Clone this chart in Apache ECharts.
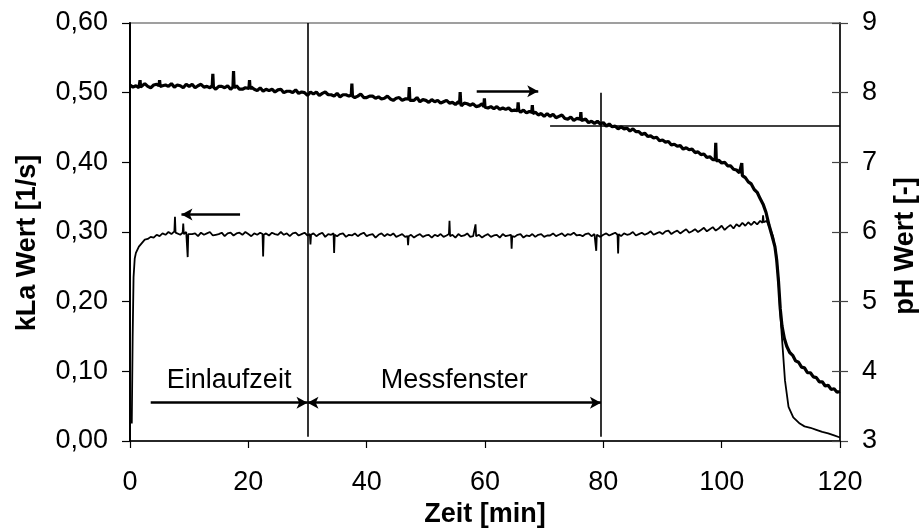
<!DOCTYPE html>
<html>
<head>
<meta charset="utf-8">
<script src="https://cdn.jsdelivr.net/npm/echarts@6/dist/echarts.min.js"></script>
<style>
  html, body { margin: 0; padding: 0; background: #fff; }
  #chart { width: 920px; height: 529px; }
</style>
</head>
<body>
<div id="chart"></div>
<script>
// kLa Wert [1/s] over Zeit [min]  (left axis)
var kLaData = [
  [0.3, 0.025], [0.45, 0.15], [0.6, 0.235], [0.8, 0.262], [1.0, 0.270], [1.5, 0.279], [2, 0.284],
  [2.5, 0.289], [3, 0.290], [3.5, 0.293], [4, 0.292], [4.5, 0.296], [5, 0.294], [5.5, 0.298],
  [6, 0.296], [6.5, 0.300], [7, 0.297], [7.5, 0.301], [7.6, 0.322], [7.7, 0.299], [8, 0.299],
  [8.5, 0.296], [8.9, 0.299], [9.0, 0.312], [9.1, 0.297], [9.5, 0.300], [9.65, 0.298], [9.75, 0.264],
  [9.85, 0.297], [10, 0.295], [10.5, 0.297], [11, 0.298], [11.5, 0.294], [12, 0.299], [12.5, 0.296],
  [13, 0.298], [13.5, 0.300], [14, 0.295], [14.5, 0.296], [15, 0.297], [15.5, 0.299], [16, 0.294],
  [16.5, 0.298], [17, 0.299], [17.5, 0.295], [18, 0.298], [18.5, 0.299], [19, 0.296], [19.5, 0.300],
  [20, 0.297], [20.5, 0.294], [21, 0.298], [21.5, 0.296], [22, 0.299], [22.4, 0.297], [22.5, 0.265],
  [22.6, 0.296], [23, 0.298], [23.5, 0.295], [24, 0.299], [24.5, 0.297], [25, 0.296], [25.5, 0.300],
  [26, 0.296], [26.5, 0.298], [27, 0.294], [27.5, 0.298], [28, 0.299], [28.5, 0.295], [29, 0.297],
  [29.5, 0.299], [30, 0.295], [30.4, 0.297], [30.5, 0.282], [30.6, 0.296], [31, 0.298], [31.5, 0.294],
  [32, 0.297], [32.5, 0.299], [33, 0.293], [33.5, 0.297], [34, 0.296], [34.4, 0.298], [34.5, 0.270],
  [34.6, 0.296], [35, 0.294], [35.5, 0.297], [36, 0.298], [36.5, 0.293], [37, 0.296], [37.5, 0.295],
  [38, 0.298], [38.5, 0.294], [39, 0.297], [39.5, 0.299], [40, 0.294], [40.5, 0.296], [41, 0.297],
  [41.5, 0.292], [42, 0.296], [42.5, 0.298], [43, 0.294], [43.5, 0.297], [44, 0.295], [44.5, 0.298],
  [45, 0.293], [45.5, 0.295], [46, 0.297], [46.5, 0.293], [46.9, 0.294], [47.0, 0.281], [47.1, 0.294],
  [47.5, 0.296], [48, 0.292], [48.5, 0.295], [49, 0.297], [49.5, 0.293], [50, 0.295], [50.5, 0.296],
  [51, 0.292], [51.5, 0.296], [52, 0.294], [52.5, 0.297], [53, 0.293], [53.5, 0.295], [53.9, 0.297],
  [54.0, 0.316], [54.1, 0.294], [54.5, 0.296], [55, 0.292], [55.5, 0.297], [56, 0.294], [56.5, 0.295],
  [57, 0.298], [57.5, 0.293], [58, 0.294], [58.3, 0.296], [58.4, 0.311], [58.5, 0.294], [59, 0.296],
  [59.5, 0.292], [60, 0.295], [60.5, 0.297], [61, 0.293], [61.5, 0.295], [62, 0.296], [62.5, 0.292],
  [63, 0.297], [63.5, 0.294], [64, 0.295], [64.4, 0.296], [64.5, 0.276], [64.6, 0.294], [65, 0.293],
  [65.5, 0.296], [66, 0.297], [66.5, 0.292], [67, 0.295], [67.5, 0.294], [68, 0.297], [68.5, 0.293],
  [69, 0.296], [69.5, 0.297], [70, 0.293], [70.5, 0.295], [71, 0.295], [71.5, 0.298], [72, 0.294],
  [72.5, 0.296], [73, 0.298], [73.5, 0.294], [74, 0.297], [74.5, 0.296], [75, 0.299], [75.5, 0.295],
  [76, 0.296], [76.5, 0.294], [77, 0.297], [77.5, 0.298], [78, 0.294], [78.5, 0.297], [78.7, 0.297],
  [78.8, 0.273], [78.9, 0.296], [79.5, 0.293], [80, 0.296], [80.5, 0.298], [81, 0.295], [81.5, 0.297],
  [82, 0.299], [82.4, 0.296], [82.5, 0.269], [82.6, 0.297], [83, 0.294], [83.5, 0.298], [84, 0.296],
  [84.5, 0.297], [85, 0.300], [85.5, 0.295], [86, 0.297], [86.5, 0.299], [87, 0.296], [87.5, 0.298],
  [88, 0.301], [88.5, 0.296], [89, 0.298], [89.5, 0.300], [90, 0.297], [90.5, 0.301], [91, 0.302],
  [91.5, 0.297], [92, 0.300], [92.5, 0.302], [93, 0.298], [93.5, 0.301], [94, 0.304], [94.5, 0.299],
  [95, 0.301], [95.5, 0.304], [96, 0.300], [96.5, 0.303], [97, 0.306], [97.5, 0.301], [98, 0.304],
  [98.5, 0.307], [99, 0.302], [99.5, 0.305], [100, 0.309], [100.5, 0.303], [101, 0.307], [101.5, 0.310],
  [102, 0.305], [102.5, 0.311], [103, 0.308], [103.5, 0.313], [104, 0.309], [104.5, 0.314],
  [105, 0.310], [105.5, 0.315], [106, 0.311], [106.5, 0.316], [106.9, 0.313], [107.0, 0.324],
  [107.1, 0.314], [107.6, 0.316], [108.2, 0.305], [108.7, 0.293], [109.2, 0.269], [109.6, 0.231],
  [109.9, 0.183], [110.3, 0.135], [110.7, 0.087], [111.3, 0.049], [112.1, 0.034], [113.2, 0.025],
  [114, 0.021], [115, 0.019], [116, 0.016], [117, 0.013], [118, 0.011], [119, 0.008], [120, 0.005]
];

// pH Wert [-] over Zeit [min]  (right axis)
var phData = [
  [0, 8.11], [0.5, 8.08], [1, 8.10], [1.5, 8.07], [1.6, 8.09], [1.7, 8.18], [1.8, 8.08], [2, 8.10],
  [2.5, 8.13], [3, 8.09], [3.5, 8.07], [4, 8.11], [4.5, 8.12], [4.9, 8.10], [5.0, 8.18], [5.1, 8.09],
  [5.5, 8.10], [6, 8.11], [6.5, 8.09], [7, 8.13], [7.5, 8.08], [8, 8.11], [8.5, 8.10], [9, 8.07],
  [9.5, 8.12], [10, 8.09], [10.5, 8.12], [11, 8.07], [11.5, 8.10], [12, 8.12], [12.5, 8.08],
  [13, 8.09], [13.5, 8.07], [13.9, 8.10], [14.0, 8.27], [14.1, 8.08], [14.5, 8.05], [15, 8.09],
  [15.5, 8.09], [16, 8.07], [16.5, 8.10], [17, 8.05], [17.4, 8.08], [17.5, 8.31], [17.6, 8.07],
  [18, 8.10], [18.5, 8.05], [19, 8.05], [19.5, 8.07], [20.1, 8.06], [20.2, 8.18], [20.3, 8.05],
  [20.5, 8.08], [21, 8.05], [21.5, 8.03], [22, 8.07], [22.5, 8.02], [23, 8.05], [23.5, 8.03],
  [24, 8.05], [24.5, 8.01], [25, 8.04], [25.5, 8.05], [26, 8.00], [26.5, 8.02], [27, 8.02],
  [27.5, 8.00], [28, 8.04], [28.5, 7.99], [29, 8.01], [29.5, 8.00], [30, 7.96], [30.5, 8.01],
  [31, 7.98], [31.5, 8.01], [32, 7.96], [32.5, 7.99], [33, 8.01], [33.5, 7.97], [34, 7.97],
  [34.5, 7.95], [35, 7.99], [35.5, 7.94], [36, 7.97], [36.5, 7.97], [37, 7.95], [37.4, 7.97],
  [37.5, 8.13], [37.6, 7.95], [38, 7.93], [38.5, 7.95], [39, 7.98], [39.5, 7.93], [40, 7.93],
  [40.5, 7.95], [41, 7.95], [41.5, 7.92], [42, 7.94], [42.5, 7.91], [43, 7.92], [43.5, 7.95],
  [44, 7.91], [44.5, 7.89], [45, 7.92], [45.5, 7.93], [46, 7.89], [46.5, 7.91], [47.1, 7.91],
  [47.2, 8.08], [47.3, 7.89], [47.5, 7.91], [48, 7.89], [48.5, 7.93], [49, 7.87], [49.5, 7.90],
  [50, 7.89], [50.5, 7.86], [51, 7.90], [51.5, 7.87], [52, 7.89], [52.5, 7.85], [53, 7.87],
  [53.5, 7.89], [54, 7.85], [54.5, 7.86], [55, 7.83], [55.5, 7.87], [55.7, 7.84], [55.8, 8.01],
  [55.9, 7.85], [56, 7.81], [56.5, 7.85], [57, 7.84], [57.5, 7.82], [58, 7.84], [58.5, 7.80],
  [59, 7.81], [59.5, 7.84], [59.8, 7.80], [59.9, 7.92], [60.0, 7.79], [60.5, 7.78], [61, 7.80],
  [61.5, 7.77], [62, 7.80], [62.5, 7.76], [63, 7.78], [63.5, 7.76], [64, 7.78], [64.5, 7.74],
  [65, 7.75], [65.5, 7.74], [65.6, 7.86], [65.7, 7.75], [66, 7.72], [66.5, 7.75], [67, 7.71],
  [67.5, 7.73], [67.9, 7.72], [68.0, 7.82], [68.1, 7.70], [68.5, 7.72], [69, 7.68], [69.5, 7.70],
  [70, 7.66], [70.5, 7.70], [71, 7.66], [71.5, 7.69], [72, 7.64], [72.5, 7.66], [73, 7.68],
  [73.5, 7.63], [74, 7.62], [74.5, 7.65], [75, 7.60], [75.5, 7.63], [76.1, 7.62], [76.2, 7.72],
  [76.3, 7.60], [76.5, 7.61], [77, 7.62], [77.5, 7.57], [78, 7.59], [78.5, 7.56], [79, 7.59],
  [79.5, 7.55], [80, 7.57], [80.5, 7.52], [81, 7.55], [81.5, 7.51], [82, 7.52], [82.5, 7.48],
  [83, 7.51], [83.5, 7.48], [84, 7.49], [84.5, 7.45], [85, 7.48], [85.5, 7.44], [86, 7.44],
  [86.5, 7.40], [87, 7.42], [87.5, 7.37], [88, 7.38], [88.5, 7.35], [89, 7.36], [89.5, 7.31],
  [90, 7.32], [90.5, 7.29], [91, 7.30], [91.5, 7.25], [92, 7.26], [92.5, 7.23], [93, 7.24],
  [93.5, 7.19], [94, 7.21], [94.5, 7.18], [95, 7.19], [95.5, 7.14], [96, 7.15], [96.5, 7.11],
  [97, 7.12], [97.5, 7.07], [98, 7.08], [98.5, 7.04], [98.9, 7.04], [99.0, 7.28], [99.1, 7.02],
  [99.5, 7.03], [100, 6.99], [100.5, 7.00], [101, 6.95], [101.5, 6.95], [102, 6.90], [102.5, 6.89],
  [103, 6.85], [103.3, 6.83], [103.4, 6.99], [103.5, 6.81], [104, 6.78], [104.5, 6.72], [105, 6.69],
  [105.5, 6.61], [106, 6.57], [106.5, 6.48], [107, 6.40], [107.5, 6.28], [108, 6.10], [108.5, 5.95],
  [109, 5.79], [109.3, 5.60], [109.6, 5.30], [109.9, 4.90], [110.2, 4.65], [110.6, 4.47],
  [111, 4.36], [111.5, 4.27], [112, 4.23], [112.5, 4.15], [113, 4.13], [113.5, 4.06], [114, 4.05],
  [114.5, 3.98], [115, 3.98], [115.5, 3.92], [116, 3.91], [116.5, 3.85], [117, 3.85], [117.5, 3.79],
  [118, 3.80], [118.5, 3.74], [119, 3.75], [119.5, 3.70], [120, 3.71]
];

// annotations, in data coordinates (time, kLa)
var einlaufArrow = [[3.5, 0.055], [30, 0.055]];
var messArrow = [[30, 0.055], [79.6, 0.055]];
var kLaArrow = [[18.6, 0.325], [8.7, 0.325]];
var phArrow = [[58.6, 0.502], [69, 0.502]];
var markerLines = [
  [[30, 0.006], [30, 0.6]],
  [[79.6, 0.006], [79.6, 0.50]]
];
var phLevelLine = [[71, 7.53], [120, 7.53]];

var font = 'Liberation Sans, Arial, sans-serif';
var txt = { fontFamily: font, fontSize: 27, color: '#000' };

var myChart = echarts.init(document.getElementById('chart'));

function seg(pts, symbols, label) {
  var item = [
    { coord: pts[0], symbol: symbols[0] },
    { coord: pts[1], symbol: symbols[1] }
  ];
  if (label) {
    item[0].label = {
      show: true, position: 'middle', distance: 9, formatter: label,
      fontFamily: font, fontSize: 27, color: '#000'
    };
  }
  return item;
}

var option = {
  animation: false,
  grid: {
    left: 130, right: 80, top: 23, bottom: 88,
    containLabel: false, outerBoundsMode: 'none',
    show: true, borderColor: '#808080', borderWidth: 1.5
  },
  xAxis: {
    type: 'value', min: 0, max: 120, interval: 20,
    name: 'Zeit [min]', nameLocation: 'middle', nameGap: 59,
    nameTextStyle: { fontFamily: font, fontSize: 27, fontWeight: 'bold', color: '#000' },
    axisLine: { lineStyle: { color: '#000', width: 1.5 } },
    axisTick: { inside: false, length: 7, lineStyle: { color: '#000', width: 1.2 } },
    axisLabel: Object.assign({ margin: 28 }, txt),
    splitLine: { show: false }
  },
  yAxis: [
    {
      type: 'value', position: 'left', min: 0, max: 0.6, interval: 0.1,
      name: 'kLa Wert [1/s]', nameLocation: 'middle', nameGap: 89,
      nameTextStyle: {
        fontFamily: font, fontSize: 27, fontWeight: 'bold', color: '#000',
        padding: [0, 22, 0, 0]
      },
      axisLine: { show: true, lineStyle: { color: '#000', width: 2 } },
      axisTick: { show: true, length: 8, lineStyle: { color: '#000', width: 1.2 } },
      axisLabel: Object.assign({
        margin: 22,
        formatter: function (v) { return v.toFixed(2).replace('.', ','); }
      }, txt),
      splitLine: { show: false }
    },
    {
      type: 'value', position: 'right', min: 3, max: 9, interval: 1,
      name: 'pH Wert [-]', nameLocation: 'middle', nameGap: 52,
      nameTextStyle: {
        fontFamily: font, fontSize: 27, fontWeight: 'bold', color: '#000',
        padding: [0, 28, 0, 0]
      },
      axisLine: { show: true, lineStyle: { color: '#000', width: 1.5 } },
      axisTick: { show: true, length: 8, lineStyle: { color: '#444', width: 1.2 } },
      axisLabel: Object.assign({ margin: 22 }, txt),
      splitLine: { show: false }
    },
    {
      type: 'value', position: 'right', offset: 0, min: 3, max: 9, interval: 1,
      axisLine: { show: false },
      axisTick: { show: true, inside: true, length: 8, lineStyle: { color: '#444', width: 1.2 } },
      axisLabel: { show: false },
      splitLine: { show: false }
    }
  ],
  series: [
    {
      name: 'kLa', type: 'line', yAxisIndex: 0, data: kLaData,
      showSymbol: false, symbol: 'none',
      lineStyle: { color: '#000', width: 1.8 },
      markLine: {
        silent: true, animation: false,
        lineStyle: { color: '#000', width: 1.6, type: 'solid' },
        symbolSize: [9, 11],
        label: { show: false },
        data: [
          seg(markerLines[0], ['none', 'none']),
          seg(markerLines[1], ['none', 'none']),
          seg(einlaufArrow, ['none', 'arrow'], 'Einlaufzeit'),
          seg(messArrow, ['arrow', 'arrow'], 'Messfenster'),
          seg(kLaArrow, ['none', 'arrow']),
          seg(phArrow, ['none', 'arrow'])
        ].map(function (d, i) {
          if (i >= 2) {
            d[0].lineStyle = { width: 2.6, color: '#000' };
          }
          return d;
        })
      }
    },
    {
      name: 'pH', type: 'line', yAxisIndex: 1, data: phData,
      showSymbol: false, symbol: 'none',
      lineStyle: { color: '#000', width: 3.2 },
      markLine: {
        silent: true, animation: false, symbol: 'none',
        label: { show: false },
        lineStyle: { color: '#000', width: 1.6, type: 'solid' },
        data: [[{ coord: phLevelLine[0] }, { coord: phLevelLine[1] }]]
      }
    }
  ]
};

myChart.setOption(option);
window.addEventListener('resize', function () {
  myChart.resize();
});
</script>
</body>
</html>
